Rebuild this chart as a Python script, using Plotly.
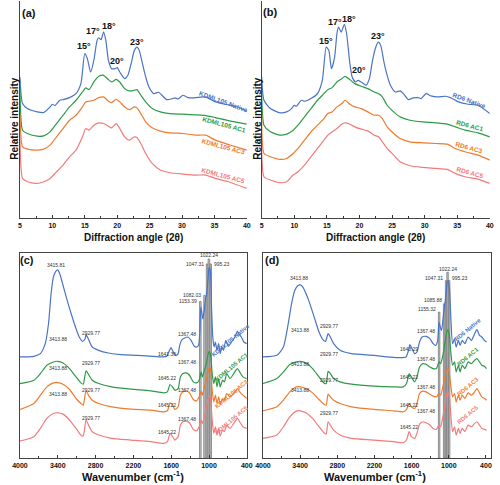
import plotly.graph_objects as go

W, H = 500, 485
FONT = "Liberation Sans, Arial, sans-serif"
BLUE, GREEN, ORANGE, RED = "#4a74c4", "#2e9a48", "#ef7b2e", "#f37b7b"
COLORS = [BLUE, GREEN, ORANGE, RED]

# ---------------- (a) XRD KDML105 ----------------
a_native_x = [5, 5.4, 6.15, 7.65, 8.65, 9.65, 10.0, 10.4, 11.15, 11.65, 12.65, 13.65, 14.4, 15.0, 15.4,
              15.9, 16.4, 16.9, 17.15, 17.5, 17.9, 18.25, 18.65, 19.15, 19.65, 20.0, 20.4, 21.15, 21.65,
              22.15, 22.65, 23.05, 23.4, 23.9, 24.4, 24.9, 25.65, 26.4, 26.9, 27.65, 28.4, 28.9, 29.4,
              30.15, 30.9, 31.9, 33.15, 33.9, 35.15, 36.65, 38.15, 39.15, 40.0]
a_native_y = [425, 345, 330, 320, 318, 335, 343, 339, 355, 357, 363, 375, 405, 495, 480,
              440, 475, 535, 543, 537, 560, 535, 475, 450, 450, 453, 440, 420, 430,
              465, 505, 515, 505, 465, 425, 395, 375, 379, 370, 357, 359, 362, 359,
              370, 363, 362, 365, 363, 350, 343, 337, 330, 320]
a_ac_x = [5, 5.4, 6.15, 7.65, 8.65, 9.65, 10.65, 11.65, 12.65, 13.65, 14.65, 15.15, 15.65, 16.4, 17.15,
          17.9, 18.65, 19.15, 19.85, 20.4, 21.15, 21.9, 22.65, 23.05, 23.65, 24.4, 25.4, 26.65, 28.15,
          30.15, 32.15, 33.65, 35.15, 37.15, 40.0]
a_ac1_y = [390, 265, 255, 247, 248, 260, 285, 310, 335, 355, 380, 392, 387, 410, 427,
           430, 417, 410, 418, 410, 390, 383, 385, 387, 370, 350, 330, 320, 315,
           313, 311, 309, 303, 294, 283]
a_ac3_y = [315, 215, 208, 205, 208, 220, 245, 270, 295, 310, 335, 350, 352, 355, 363,
           365, 352, 348, 358, 350, 335, 327, 335, 332, 315, 290, 272, 262, 257,
           255, 250, 250, 235, 222, 205]
a_ac5_y = [255, 120, 110, 105, 110, 120, 140, 160, 185, 205, 245, 270, 265, 280, 287,
           285, 277, 272, 285, 270, 245, 235, 245, 243, 225, 195, 165, 145, 137,
           133, 130, 130, 120, 110, 90]

# ---------------- (b) XRD RD6 ----------------
b_native_x = [5, 5.35, 6.34, 7.84, 8.83, 9.58, 9.98, 10.32, 11.07, 11.57, 12.56, 13.56, 14.30, 14.90,
              15.30, 15.70, 16.19, 16.54, 16.79, 17.19, 17.69, 18.03, 18.53, 18.88, 19.38, 19.78, 20.27,
              21.02, 21.52, 22.01, 22.51, 22.91, 23.26, 23.76, 24.25, 24.75, 25.50, 26.24, 26.74, 27.49,
              28.23, 28.98, 29.48, 30.22, 30.97, 31.97, 33.21, 33.96, 35.20, 36.69, 38.18, 40.0]
b_native_y = [425, 355, 330, 317, 320, 330, 340, 337, 355, 352, 360, 375, 415, 515,
              505, 450, 485, 555, 575, 560, 583, 555, 465, 425, 410, 415, 410,
              400, 420, 475, 515, 530, 520, 470, 430, 400, 380, 383, 375, 357,
              362, 363, 360, 375, 368, 365, 367, 363, 350, 343, 340, 315]
b_ac_x = [5, 5.35, 6.34, 7.84, 8.83, 9.83, 10.57, 11.57, 12.56, 13.56, 14.55, 15.15, 15.80, 16.54,
          17.29, 17.79, 18.53, 19.28, 20.27, 21.27, 22.26, 22.91, 23.51, 24.25, 25.25, 26.24, 27.74,
          29.73, 31.72, 33.46, 34.70, 36.19, 38.18, 40.0]
b_ac1_y = [385, 280, 260, 250, 253, 265, 280, 305, 330, 355, 375, 387, 393, 410,
           420, 427, 417, 405, 397, 390, 380, 375, 365, 340, 320, 305, 295,
           290, 287, 283, 275, 265, 257, 245]
b_ac3_y = [315, 195, 185, 177, 180, 195, 210, 235, 260, 280, 300, 315, 320, 335,
           345, 355, 343, 335, 330, 320, 310, 310, 300, 275, 255, 240, 230,
           227, 225, 223, 210, 200, 190, 175]
b_ac5_y = [225, 125, 115, 107, 110, 130, 140, 160, 185, 210, 235, 250, 260, 270,
           283, 287, 283, 275, 268, 263, 250, 245, 230, 210, 190, 170, 158,
           153, 150, 147, 135, 125, 118, 105]

# ---------------- (c) FTIR KDML105 ----------------
c_native_x = [4000, 3779, 3676, 3599, 3547, 3506, 3470, 3434, 3403, 3367, 3316, 3265, 3187, 3110,
              3059, 3007, 2966, 2951, 2930, 2905, 2853, 2750, 2596, 2390, 2133, 1876, 1722, 1670,
              1634, 1603, 1567, 1526, 1490, 1465, 1429, 1387, 1336, 1285, 1233, 1192, 1166, 1146,
              1130, 1115, 1099, 1079, 1053, 1038, 1017, 1002, 991, 976, 960, 940, 919, 899,
              873, 847, 822, 796, 770, 734, 693, 642, 590, 549, 528, 487, 446, 400]
c_native_y = [305, 307, 315, 345, 405, 495, 545, 562, 567, 555, 520, 485, 435, 390,
              365, 352, 360, 372, 365, 355, 335, 325, 317, 312, 310, 307, 305, 307,
              322, 333, 320, 310, 315, 340, 357, 362, 365, 355, 337, 335, 340, 380,
              455, 440, 420, 440, 480, 495, 535, 570, 575, 560, 455, 365, 335, 350,
              325, 345, 315, 335, 325, 355, 337, 350, 365, 383, 375, 365, 350, 345]
c_ac_x = [4000, 3779, 3676, 3573, 3470, 3403, 3316, 3213, 3110, 3033, 2997, 2951, 2905, 2853,
          2750, 2545, 2236, 1927, 1722, 1660, 1619, 1578, 1542, 1490, 1454, 1413, 1362, 1310,
          1249, 1197, 1156, 1125, 1105, 1074, 1043, 1012, 991, 971, 950, 924, 899, 873,
          847, 822, 786, 755, 719, 667, 590, 549, 513, 462, 400]
c_ac1_y = [225, 235, 255, 280, 290, 292, 287, 270, 245, 227, 223, 263, 250, 235,
           225, 215, 208, 203, 197, 200, 222, 215, 205, 210, 245, 255, 257, 250,
           230, 227, 235, 260, 245, 265, 285, 315, 322, 305, 255, 225, 245, 215,
           240, 215, 235, 230, 255, 240, 260, 270, 260, 245, 240]
c_ac3_y = [147, 165, 190, 215, 227, 228, 223, 207, 180, 165, 160, 203, 187, 175,
           165, 155, 148, 145, 140, 143, 167, 160, 147, 155, 190, 200, 203, 197,
           177, 173, 185, 202, 190, 215, 235, 265, 275, 260, 205, 170, 190, 165,
           185, 163, 180, 175, 195, 185, 200, 210, 200, 190, 180]
c_ac5_y = [52, 65, 90, 120, 135, 137, 133, 115, 90, 70, 67, 115, 97, 80,
           70, 60, 55, 50, 45, 50, 75, 65, 55, 65, 100, 110, 112, 107,
           87, 83, 95, 115, 105, 125, 150, 180, 187, 170, 115, 75, 95, 70,
           90, 67, 85, 80, 100, 90, 110, 120, 110, 95, 90]
c_band_pos = [1138, 1071, 1030, 1002, 973]
c_band_top = [472, 490, 585, 600, 585]

# ---------------- (d) FTIR RD6 ----------------
d_native_x = [4000, 3775, 3670, 3592, 3539, 3487, 3435, 3398, 3356, 3304, 3252, 3173, 3095, 3032,
              2990, 2948, 2912, 2859, 2755, 2571, 2205, 1996, 1786, 1692, 1650, 1629, 1593, 1551,
              1514, 1472, 1431, 1368, 1305, 1253, 1211, 1179, 1158, 1138, 1117, 1090, 1064, 1049,
              1028, 1012, 991, 965, 939, 907, 881, 845, 818, 782, 740, 688, 635, 583,
              546, 504, 468, 426, 390]
d_native_y = [305, 310, 335, 405, 465, 505, 520, 522, 515, 495, 470, 425, 380, 357,
              352, 375, 365, 345, 325, 315, 310, 305, 303, 305, 325, 342, 330, 315,
              320, 350, 365, 367, 360, 345, 340, 355, 410, 395, 385, 425, 465, 485,
              525, 535, 515, 415, 345, 360, 335, 355, 340, 355, 345, 365, 355, 375,
              387, 370, 365, 355, 350]
d_ac_x = [4000, 3775, 3670, 3566, 3461, 3398, 3304, 3199, 3095, 3016, 2980, 2948, 2912, 2859,
          2755, 2571, 2205, 1891, 1734, 1682, 1640, 1603, 1551, 1514, 1472, 1420, 1368, 1305,
          1253, 1200, 1158, 1132, 1096, 1064, 1033, 1012, 991, 965, 939, 907, 881, 845,
          818, 782, 740, 688, 635, 583, 546, 504, 468, 426, 390]
d_ac1_y = [225, 240, 260, 282, 290, 292, 287, 270, 245, 227, 225, 262, 255, 240,
           230, 223, 217, 215, 215, 225, 255, 245, 230, 245, 275, 285, 283, 275,
           270, 270, 290, 285, 310, 345, 380, 387, 370, 315, 280, 290, 260, 280,
           260, 280, 270, 290, 285, 295, 300, 290, 280, 277, 270]
d_ac3_y = [143, 155, 175, 200, 215, 215, 210, 197, 177, 163, 160, 193, 185, 175,
           165, 155, 147, 143, 140, 147, 165, 155, 150, 165, 195, 202, 200, 193,
           187, 185, 195, 190, 215, 245, 265, 270, 255, 215, 185, 195, 170, 190,
           175, 190, 180, 197, 190, 200, 210, 197, 185, 180, 175]
d_ac5_y = [60, 70, 95, 125, 142, 143, 137, 120, 95, 77, 73, 110, 100, 85,
           70, 60, 55, 50, 47, 55, 80, 65, 60, 75, 103, 110, 107, 100,
           90, 87, 100, 95, 125, 155, 195, 200, 185, 125, 80, 95, 70, 90,
           75, 90, 80, 100, 95, 105, 110, 100, 90, 87, 85]
d_band_pos = [1156, 1075, 1043, 1020, 994]
d_band_top = [440, 465, 535, 560, 535]

kdml_names = ["KDML105 Native", "KDML105 AC1", "KDML105 AC3", "KDML105 AC5"]
rd6_names = ["RD6 Native", "RD6 AC1", "RD6 AC3", "RD6 AC5"]
xrd_peaks = ["15°", "17°", "18°", "20°", "23°"]
c_labels = ["3415.81", "2929.77", "1641.36", "1367.48", "1153.39", "1082.03", "1047.31", "1022.24", "995.23",
            "3413.88", "2929.77", "1645.22", "1367.48",
            "3413.88", "2929.77", "1645.22", "1367.48",
            "3413.88", "2929.77", "1645.22", "1367.48"]
d_labels = ["3413.88", "2929.77", "1643.29", "1367.48", "1155.32", "1085.88", "1047.31", "1022.24", "995.23",
            "3413.88", "2929.77", "1645.22", "1367.48",
            "3413.88", "2929.77", "1645.22", "1367.48",
            "3413.88", "2929.77", "1645.22", "1367.48"]

# ---------------- panel geometry (pixels) ----------------
PANELS = {
    "a": dict(x0=12.3, x1=245.7, y0=218.3, y1=0.5, xr=(5, 40), yr=(0, 655)),
    "b": dict(x0=261.0, x1=495.7, y0=218.3, y1=0.5, xr=(5, 40), yr=(0, 655)),
    "c": dict(x0=12.3, x1=245.7, y0=458.3, y1=253.3, xr=(4000, 400), yr=(0, 617)),
    "d": dict(x0=262.3, x1=496.7, y0=458.3, y1=253.3, xr=(4000, 322), yr=(0, 617)),
}


def to_paper(panel, x, y):
    p = PANELS[panel]
    fx = (x - p["xr"][0]) / (p["xr"][1] - p["xr"][0])
    fy = (y - p["yr"][0]) / (p["yr"][1] - p["yr"][0])
    px = p["x0"] + fx * (p["x1"] - p["x0"])
    pyy = p["y0"] + fy * (p["y1"] - p["y0"])
    return px / W, 1 - pyy / H


# ---------------- figure ----------------
fig = go.Figure()
LW = 1.2


def add_curves(xs_list, ys_list, ax):
    for xs, ys, col in zip(xs_list, ys_list, COLORS):
        fig.add_trace(go.Scatter(x=xs, y=ys, mode="lines", xaxis="x" + ax, yaxis="y" + ax,
                                 line=dict(color=col, width=LW, shape="spline", smoothing=0.6),
                                 showlegend=False, hoverinfo="skip"))


def add_bands(pos, top, ax, width):
    fig.add_trace(go.Bar(x=pos, y=top, width=width, xaxis="x" + ax, yaxis="y" + ax,
                         marker=dict(color="#c4c4c4", line=dict(color="#707070", width=0.7)),
                         showlegend=False, hoverinfo="skip"))


add_curves([a_native_x, a_ac_x, a_ac_x, a_ac_x], [a_native_y, a_ac1_y, a_ac3_y, a_ac5_y], "")
add_curves([b_native_x, b_ac_x, b_ac_x, b_ac_x], [b_native_y, b_ac1_y, b_ac3_y, b_ac5_y], "2")
add_bands(c_band_pos, c_band_top, "3", 26)
add_curves([c_native_x, c_ac_x, c_ac_x, c_ac_x], [c_native_y, c_ac1_y, c_ac3_y, c_ac5_y], "3")
add_bands(d_band_pos, d_band_top, "4", 24)
add_curves([d_native_x, d_ac_x, d_ac_x, d_ac_x], [d_native_y, d_ac1_y, d_ac3_y, d_ac5_y], "4")

AX_LINE = "#444444"
tickfont = dict(family=FONT, size=7, color="#111111", weight="bold")


def xaxis(panel, tickvals, minor_dtick, tick0, anchor, mirror):
    p = PANELS[panel]
    return dict(domain=[p["x0"] / W, p["x1"] / W], range=list(p["xr"]), tickvals=tickvals, ticks="inside",
                ticklen=3, tickwidth=1, tickcolor="#333333", showline=True, linecolor=AX_LINE, linewidth=1,
                mirror=mirror, showgrid=False, zeroline=False, tickfont=tickfont, anchor=anchor,
                minor=dict(ticks="inside", ticklen=2, dtick=minor_dtick, tick0=tick0, tickcolor="#333333"))


def yaxis(panel, anchor, mirror):
    p = PANELS[panel]
    return dict(domain=[1 - p["y0"] / H, 1 - p["y1"] / H], range=list(p["yr"]), showticklabels=False, ticks="",
                showline=True, linecolor=AX_LINE, linewidth=1, mirror=mirror, showgrid=False, zeroline=False,
                anchor=anchor)


xrd_ticks = [5, 10, 15, 20, 25, 30, 35, 40]
ir_ticks = [4000, 3400, 2800, 2200, 1600, 1000, 400]

fig.update_layout(
    width=W, height=H, margin=dict(l=0, r=0, t=0, b=0),
    paper_bgcolor="white", plot_bgcolor="white", showlegend=False, barmode="overlay",
    xaxis=xaxis("a", xrd_ticks, 2.5, 5, "y", False),
    yaxis=yaxis("a", "x", False),
    xaxis2=xaxis("b", xrd_ticks, 2.5, 5, "y2", False),
    yaxis2=yaxis("b", "x2", False),
    xaxis3=xaxis("c", ir_ticks, 300, 400, "y3", True),
    yaxis3=yaxis("c", "x3", True),
    xaxis4=xaxis("d", ir_ticks, 300, 400, "y4", True),
    yaxis4=yaxis("d", "x4", True),
)

anns = []


def ann(text, x, y, size=7, color="#222222", bold=False, angle=0, xanchor="center"):
    anns.append(dict(text=("<b>%s</b>" % text) if bold else text, x=x, y=y, xref="paper", yref="paper",
                     showarrow=False, textangle=angle, xanchor=xanchor, yanchor="middle",
                     font=dict(family=FONT, size=size, color=color)))


def dann(panel, text, x, y, **kw):
    px, pyy = to_paper(panel, x, y)
    ann(text, px, pyy, **kw)


def py(p):
    return 1 - p / H


# panel letters
ann("(a)", 22 / W, py(13), size=11, bold=True, color="#111")
ann("(b)", 270 / W, py(12), size=11, bold=True, color="#111")
ann("(c)", 20 / W, py(260), size=11, bold=True, color="#111")
ann("(d)", 272 / W, py(260), size=11, bold=True, color="#111")

# axis titles
for cx in (129 / W, 378 / W):
    ann("Diffraction angle (2θ)", cx, py(237), size=10, bold=True, color="#111")
    ann("Wavenumber (cm<sup>-1</sup>)", cx, py(476), size=11, bold=True, color="#111")
ann("Relative intensity", 6 / W, py(118), size=10, bold=True, color="#111", angle=-90)
ann("Relative intensity", 256 / W, py(118), size=10, bold=True, color="#111", angle=-90)

# XRD peak labels
a_peak_pos = [(14.9, 518), (16.25, 563), (18.7, 577), (19.9, 472), (23.0, 530)]
b_peak_pos = [(14.9, 533), (16.2, 590), (18.45, 600), (20.0, 445), (22.8, 547)]
for t, (x, y) in zip(xrd_peaks, a_peak_pos):
    dann("a", t, x, y, size=9, bold=True, color="#111")
for t, (x, y) in zip(xrd_peaks, b_peak_pos):
    dann("b", t, x, y, size=9, bold=True, color="#111")

# XRD curve labels
a_name_pos = [(36.4, 352, 20), (36.5, 283, 15), (36.4, 215, 15), (36.4, 130, 15)]
b_name_pos = [(36.9, 355, 20), (36.9, 280, 15), (36.8, 212, 15), (37.0, 137, 15)]
for t, col, (x, y, r) in zip(kdml_names, COLORS, a_name_pos):
    dann("a", t, x, y, size=6.5, bold=True, color=col, angle=r)
for t, col, (x, y, r) in zip(rd6_names, COLORS, b_name_pos):
    dann("b", t, x, y, size=6.5, bold=True, color=col, angle=r)

# FTIR curve labels
c_name_pos = [(650, 355), (641, 275), (641, 193), (641, 115)]
d_name_pos = [(698, 385), (698, 305), (698, 215), (698, 130)]
for t, col, (x, y) in zip(kdml_names, COLORS, c_name_pos):
    dann("c", t, x, y, size=6, bold=True, color=col, angle=-40)
for t, col, (x, y) in zip(rd6_names, COLORS, d_name_pos):
    dann("d", t, x, y, size=6, bold=True, color=col, angle=-40)

# FTIR band labels (x, y, anchor)
c_lab_pos = [(3429, 583, "center"), (2879, 378, "center"), (1670, 313, "center"), (1346, 373, "center"),
             (1156, 473, "right"), (1089, 492, "right"), (1043, 585, "right"), (1002, 612, "center"),
             (960, 585, "left"),
             (3403, 358, "center"), (2879, 288, "center"), (1670, 242, "center"), (1346, 289, "center"),
             (3403, 272, "center"), (2879, 205, "center"), (1670, 159, "center"), (1346, 205, "center"),
             (3403, 193, "center"), (2879, 120, "center"), (1670, 80, "center"), (1346, 118, "center")]
d_lab_pos = [(3419, 543, "center"), (2938, 397, "center"), (1640, 330, "center"), (1368, 383, "center"),
             (1169, 450, "right"), (1085, 475, "right"), (1054, 543, "right"), (1017, 570, "center"),
             (981, 543, "left"),
             (3409, 387, "center"), (2938, 313, "center"), (1645, 245, "center"), (1368, 300, "center"),
             (3409, 283, "center"), (2938, 235, "center"), (1645, 160, "center"), (1368, 215, "center"),
             (3409, 207, "center"), (2938, 137, "center"), (1645, 93, "center"), (1368, 143, "center")]
for t, (x, y, a) in zip(c_labels, c_lab_pos):
    dann("c", t, x, y, size=5, color="#333333", xanchor=a)
for t, (x, y, a) in zip(d_labels, d_lab_pos):
    dann("d", t, x, y, size=5, color="#333333", xanchor=a)

fig.update_layout(annotations=anns)
fig.write_html("out.html", config={"displayModeBar": False},
               post_script="document.body.style.margin='0px';document.body.style.padding='0px';")
